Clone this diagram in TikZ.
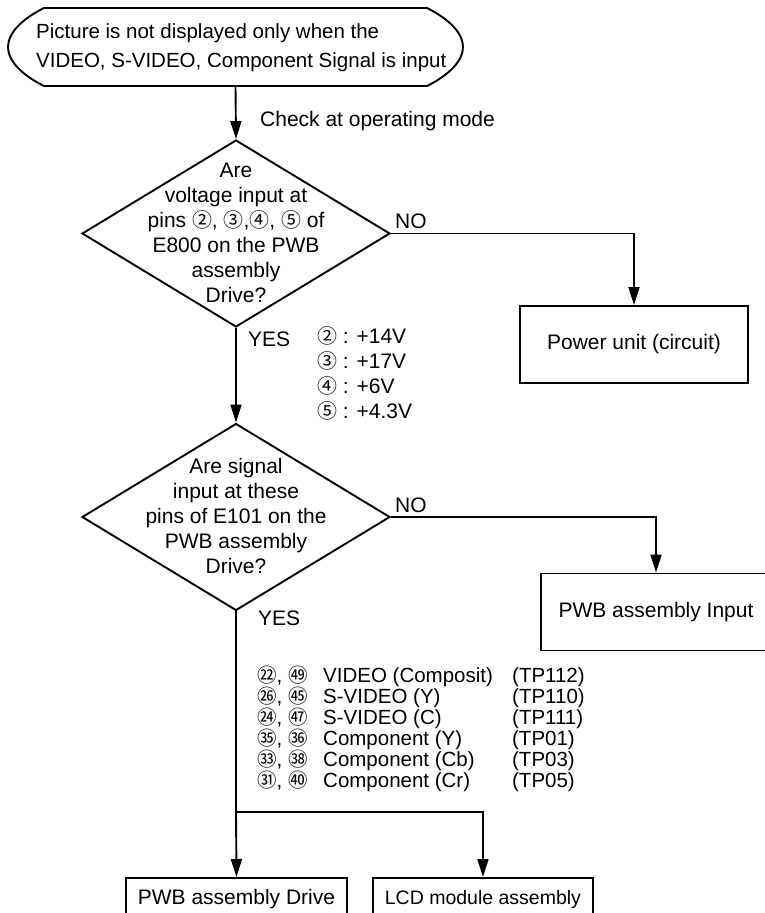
\documentclass[tikz,border=0pt]{standalone}
\usepackage{fontspec}
\setmainfont{Liberation Sans}
\newfontfamily\cjk{Noto Sans CJK JP}[Scale=0.95]
\usetikzlibrary{shapes.geometric,shapes.misc,arrows.meta}
\newcommand{\cn}[1]{\smash{{\cjk #1}}}
\begin{document}
\begin{tikzpicture}[x=1pt,y=-1pt,
  every node/.style={font=\fontsize{21}{25}\selectfont, inner sep=0pt},
  line/.style={line width=1.9pt},
  arr/.style={line width=1.9pt, -{Triangle[length=18pt,width=11pt]}},
  termline/.style={line width=1.9pt},
  dec/.style={draw, line width=1.9pt, diamond, minimum width=308pt, minimum height=187pt},
  box/.style={draw, line width=1.9pt, rectangle},
  ]
\useasboundingbox (0,0) rectangle (764,913);
% terminal
\node[minimum width=455pt, minimum height=78pt] (start) at (235.5,47) {};
\draw[termline] (44,8) -- (427,8) .. controls (449,19) and (463,33) .. (463,47)
  .. controls (463,61) and (449,75) .. (427,86) -- (44,86)
  .. controls (22,75) and (8,61) .. (8,47) .. controls (8,33) and (22,19) .. (44,8) -- cycle;
\node[anchor=west, align=left, font=\fontsize{20.5}{29}\selectfont] (starttxt) at (36,48) {Picture is not displayed only when the\\VIDEO, S-VIDEO, Component Signal is input};
\node[dec] (d1) at (236,233.5) {};
\node[align=center] (d1txt) at (236,233) {Are\\voltage input at\\pins \cn{②}, \cn{③},\cn{④}, \cn{⑤} of\\E800 on the PWB\\assembly\\Drive?};
\draw[arr] (start.south) -- (d1.north);
\node[anchor=west] (check) at (260,121) {Check at operating mode};
\node[box, minimum width=228pt, minimum height=77pt] (power) at (634,344.5) {Power unit (circuit)};
\draw[arr] (d1.east) -| (power.north);
\node[anchor=south west] (no1) at (395,229) {NO};
\node[anchor=west] (yes1) at (248,339) {YES};
\node[anchor=north west, align=left] (volts) at (317,329) {\cn{②} : +14V\\\cn{③} : +17V\\\cn{④} : +6V\\\cn{⑤} : +4.3V};
\node[dec] (d2) at (236,517) {};
\node[align=center] (d2txt) at (236,516) {Are signal\\input at these\\pins of E101 on the\\PWB assembly\\Drive?};
\draw[arr] (d1.south) -- (d2.north);
\node[box, minimum width=230pt, minimum height=77pt] (input) at (656,612) {PWB assembly Input};
\draw[arr] (d2.east) -| (input.north);
\node[anchor=south west] (no2) at (395,513) {NO};
\node[anchor=west] (yes2) at (258,618) {YES};
\node[anchor=north west, font=\fontsize{20.5}{20.5}\selectfont] (sigs) at (257,667) {\begin{tabular}{@{}p{66pt}@{}p{189pt}@{}l@{}}
\cn{㉒}, \cn{㊾} & VIDEO (Composit) & (TP112)\\
\cn{㉖}, \cn{㊺} & S-VIDEO (Y) & (TP110)\\
\cn{㉔}, \cn{㊼} & S-VIDEO (C) & (TP111)\\
\cn{㉟}, \cn{㊱} & Component (Y) & (TP01)\\
\cn{㉝}, \cn{㊳} & Component (Cb) & (TP03)\\
\cn{㉛}, \cn{㊵} & Component (Cr) & (TP05)
\end{tabular}};
\coordinate (split) at (236,812);
\node[box, minimum width=221pt, minimum height=42pt, anchor=north] (drive) at (236.5,877) {PWB assembly Drive};
\node[box, minimum width=220pt, minimum height=42pt, anchor=north west, font=\fontsize{19.5}{24}\selectfont] (lcd) at (372,877) {LCD module assembly};
\draw[line] (d2.south) -- (split);
\draw[arr] (split) -- (drive.north);
\draw[arr] (split) -| (lcd.north);
\end{tikzpicture}
\end{document}
